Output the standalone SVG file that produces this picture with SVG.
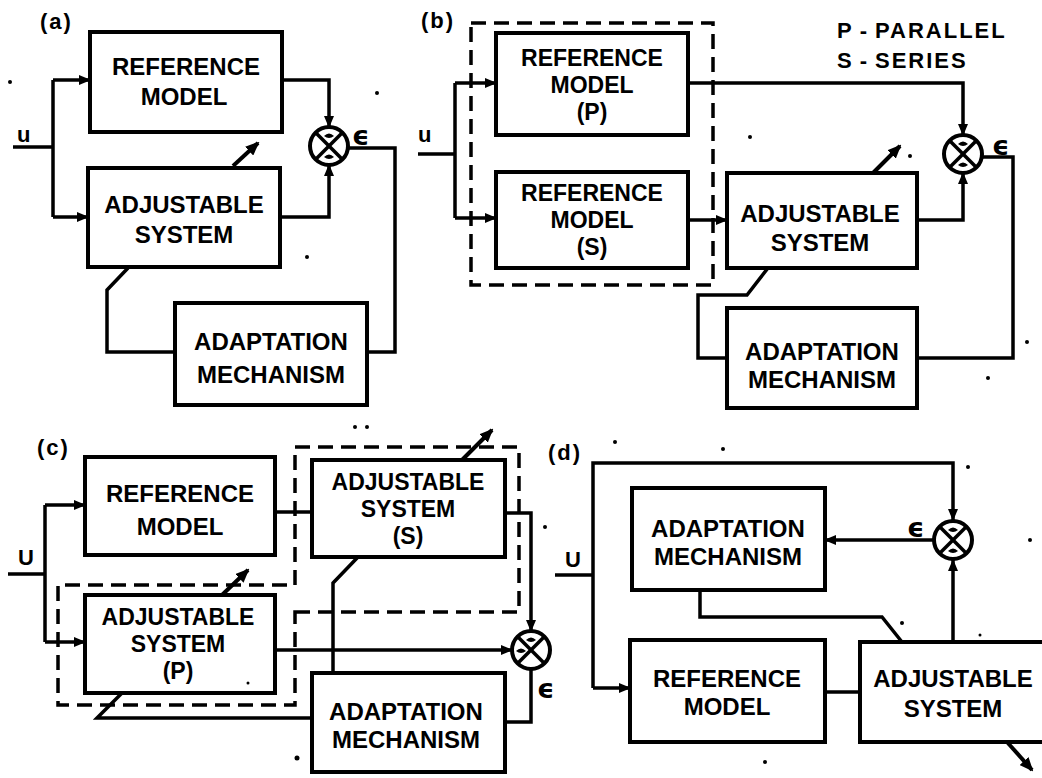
<svg xmlns="http://www.w3.org/2000/svg" width="1042" height="778" viewBox="0 0 1042 778">
<style>
.box{fill:#fff;stroke:#000;stroke-width:4}
.t{font-family:"Liberation Sans",Arial,sans-serif;font-weight:bold;font-size:24px;text-anchor:middle;fill:#000}
.t3{font-family:"Liberation Sans",Arial,sans-serif;font-weight:bold;font-size:23px;text-anchor:middle;fill:#000}
.lb{font-family:"Liberation Sans",Arial,sans-serif;font-weight:bold;font-size:22px;fill:#000}
.eps{font-family:"DejaVu Sans",sans-serif;font-weight:bold;font-size:27px;fill:#000}
.w{fill:none;stroke:#000;stroke-width:3.5;stroke-linejoin:miter}
.a{marker-end:url(#ah)}
.adj{fill:none;stroke:#000;stroke-width:4;marker-end:url(#ah2)}
.dash{fill:none;stroke:#000;stroke-width:3.5;stroke-dasharray:15 8}
.sc{fill:#fff;stroke:#000;stroke-width:4}
.x{stroke:#000;stroke-width:3.5}
.dot{fill:#000}
</style>
<defs>
<marker id="ah" viewBox="0 0 12 10" refX="11" refY="5" markerWidth="12" markerHeight="10" markerUnits="userSpaceOnUse" orient="auto"><path d="M0,0 L12,5 L0,10 z"/></marker>
<marker id="ah2" viewBox="0 0 14 12" refX="12" refY="6" markerWidth="14" markerHeight="12" markerUnits="userSpaceOnUse" orient="auto"><path d="M0,0 L14,6 L0,12 z"/></marker>
<g id="sum">
<circle class="sc" cx="0" cy="0" r="19"/>
<line class="x" x1="-13" y1="-13" x2="13" y2="13"/>
<line class="x" x1="13" y1="-13" x2="-13" y2="13"/>
</g>
<path id="mk" d="M-5,0 Q0,-5 5,0 Q0,4 -5,0 z"/>
</defs>

<!-- labels -->
<text class="lb" x="40" y="29" letter-spacing="2">(a)</text>
<text class="lb" x="421" y="28" letter-spacing="2">(b)</text>
<text class="lb" x="37" y="455" letter-spacing="2">(c)</text>
<text class="lb" x="548" y="460" letter-spacing="2">(d)</text>
<text class="lb" x="17" y="142">u</text>
<text class="lb" x="418" y="142">u</text>
<text class="lb" x="18" y="565" font-size="19">U</text>
<text class="lb" x="565" y="567" font-size="19">U</text>
<text class="eps" x="352" y="145">ϵ</text>
<text class="eps" x="992" y="155">ϵ</text>
<text class="eps" x="537" y="698">ϵ</text>
<text class="eps" x="907" y="537">ϵ</text>
<text class="lb" x="837" y="38" font-size="24" letter-spacing="2">P<tspan dx="6">-</tspan><tspan dx="6">PARALLEL</tspan></text>
<text class="lb" x="837" y="68" font-size="24" letter-spacing="2">S<tspan dx="6">-</tspan><tspan dx="6">SERIES</tspan></text>

<!-- connectors -->
<g id="connectors">
<!-- (a) -->
<path class="w" d="M13,147 H53 M53,80 V217"/>
<path class="w a" d="M53,80 H90"/>
<path class="w a" d="M53,217 H88"/>
<path class="w a" d="M282,80 H329 V127"/>
<path class="w a" d="M280,217 H329 V165"/>
<path class="w" d="M348,148 H395 V352 H367"/>
<path class="w" d="M175,352 H107 V290 L128,268"/>
<path class="adj" d="M233,166 L258,143"/>
<!-- (b) -->
<rect class="dash" x="471" y="23" width="242" height="262"/>
<path class="w" d="M418,154 H455 M455,83 V218"/>
<path class="w a" d="M455,83 H496"/>
<path class="w a" d="M455,218 H496"/>
<path class="w a" d="M688,83 H963 V135"/>
<path class="w a" d="M688,220 H727"/>
<path class="w a" d="M917,220 H963 V173"/>
<path class="w" d="M982,157 H1013 V358 H917"/>
<path class="w" d="M727,358 H698 V295 H747 L768,268"/>
<path class="adj" d="M873,173 L900,146"/>
<!-- (c) -->
<path class="dash" d="M295,612 H519 V447 H295 V585 H58 V705 H295 Z"/>
<path class="w" d="M8,574 H45 M45,505 V642"/>
<path class="w a" d="M45,505 H85"/>
<path class="w a" d="M45,642 H85"/>
<path class="w" d="M275,512 H312"/>
<path class="w a" d="M505,513 H531 V631"/>
<path class="w a" d="M275,650 H512"/>
<path class="w" d="M531,669 V722 H505"/>
<path class="w" d="M333,673 V583 L358,557"/>
<path class="w" d="M312,718 H97 L122,693"/>
<path class="adj" d="M222,595 L248,570"/>
<path class="adj" d="M462,460 L492,430"/>
<!-- (d) -->
<path class="w" d="M555,575 H593"/>
<path class="w a" d="M593,688 V463 H953 V520"/>
<path class="w a" d="M593,688 H630"/>
<path class="w a" d="M933,540 H825"/>
<path class="w a" d="M953,642 V560"/>
<path class="w" d="M825,692 H860"/>
<path class="w" d="M700,590 V617 H882 L902,642"/>
<path class="adj" d="M1007,742 L1032,770"/>
</g>

<!-- (a) nodes -->
<g id="a-ref"><rect class="box" x="90" y="32" width="192" height="100"/><text class="t" x="186" y="75">REFERENCE</text><text class="t" x="184" y="105">MODEL</text></g>
<g id="a-adj"><rect class="box" x="88" y="168" width="192" height="99"/><text class="t" x="184" y="213">ADJUSTABLE</text><text class="t" x="184" y="243">SYSTEM</text></g>
<g id="a-adapt"><rect class="box" x="175" y="303" width="192" height="102"/><text class="t" x="271" y="350">ADAPTATION</text><text class="t" x="271" y="383">MECHANISM</text></g>
<g id="a-sum"><use href="#sum" x="329" y="146"/><use href="#mk" x="329" y="136"/><use href="#mk" x="329" y="157"/></g>

<!-- (b) nodes -->
<g id="b-refp"><rect class="box" x="496" y="33" width="192" height="102"/><text class="t3" x="592" y="66">REFERENCE</text><text class="t3" x="592" y="93">MODEL</text><text class="t3" x="592" y="120">(P)</text></g>
<g id="b-refs"><rect class="box" x="496" y="172" width="192" height="96"/><text class="t3" x="592" y="201">REFERENCE</text><text class="t3" x="592" y="228">MODEL</text><text class="t3" x="592" y="255">(S)</text></g>
<g id="b-adj"><rect class="box" x="727" y="173" width="190" height="95"/><text class="t" x="820" y="222">ADJUSTABLE</text><text class="t" x="820" y="251">SYSTEM</text></g>
<g id="b-adapt"><rect class="box" x="727" y="308" width="190" height="100"/><text class="t" x="822" y="360">ADAPTATION</text><text class="t" x="822" y="388">MECHANISM</text></g>
<g id="b-sum"><use href="#sum" x="963" y="154"/><use href="#mk" x="963" y="144"/><use href="#mk" x="963" y="165"/></g>

<!-- (c) nodes -->
<g id="c-ref"><rect class="box" x="85" y="457" width="190" height="98"/><text class="t" x="180" y="502">REFERENCE</text><text class="t" x="180" y="535">MODEL</text></g>
<g id="c-adjs"><rect class="box" x="312" y="460" width="193" height="97"/><text class="t3" x="408" y="490">ADJUSTABLE</text><text class="t3" x="408" y="517">SYSTEM</text><text class="t3" x="408" y="544">(S)</text></g>
<g id="c-adjp"><rect class="box" x="85" y="595" width="190" height="98"/><text class="t3" x="178" y="625">ADJUSTABLE</text><text class="t3" x="178" y="652">SYSTEM</text><text class="t3" x="178" y="679">(P)</text></g>
<g id="c-adapt"><rect class="box" x="312" y="673" width="193" height="99"/><text class="t" x="406" y="720">ADAPTATION</text><text class="t" x="406" y="748">MECHANISM</text></g>
<g id="c-sum"><use href="#sum" x="531" y="650"/><use href="#mk" x="531" y="640"/><use href="#mk" x="521" y="651"/></g>

<!-- (d) nodes -->
<g id="d-adapt"><rect class="box" x="632" y="488" width="193" height="102"/><text class="t" x="728" y="537">ADAPTATION</text><text class="t" x="728" y="565">MECHANISM</text></g>
<g id="d-ref"><rect class="box" x="630" y="640" width="195" height="102"/><text class="t" x="727" y="687">REFERENCE</text><text class="t" x="727" y="715">MODEL</text></g>
<g id="d-adj"><rect class="box" x="860" y="642" width="192" height="100"/><text class="t" x="953" y="687">ADJUSTABLE</text><text class="t" x="953" y="717">SYSTEM</text></g>
<g id="d-sum"><use href="#sum" x="953" y="540"/><use href="#mk" x="953" y="530"/><use href="#mk" x="953" y="551"/></g>

<!-- specks -->
<g id="specks">
<circle class="dot" cx="10" cy="82" r="2"/>
<circle class="dot" cx="377" cy="93" r="2"/>
<circle class="dot" cx="307" cy="257" r="2"/>
<circle class="dot" cx="750" cy="137" r="2"/>
<circle class="dot" cx="910" cy="156" r="2"/>
<circle class="dot" cx="1027" cy="342" r="2"/>
<circle class="dot" cx="988" cy="378" r="2"/>
<circle class="dot" cx="355" cy="427" r="2"/>
<circle class="dot" cx="367" cy="427" r="2"/>
<circle class="dot" cx="297" cy="758" r="2.5"/>
<circle class="dot" cx="248" cy="683" r="1.5"/>
<circle class="dot" cx="615" cy="442" r="2"/>
<circle class="dot" cx="723" cy="449" r="2"/>
<circle class="dot" cx="545" cy="527" r="2"/>
<circle class="dot" cx="968" cy="467" r="2"/>
<circle class="dot" cx="1030" cy="540" r="2"/>
<circle class="dot" cx="902" cy="623" r="2"/>
<circle class="dot" cx="980" cy="635" r="1.5"/>
<circle class="dot" cx="765" cy="762" r="2"/>
</g>
</svg>
